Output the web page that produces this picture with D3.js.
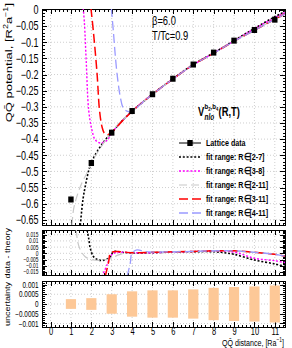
<!DOCTYPE html>
<html><head><meta charset="utf-8">
<script src="https://cdn.jsdelivr.net/npm/d3@7"></script>
<style>
body{margin:0;background:#fff}
text{font-family:"Liberation Sans",Arial,Helvetica,sans-serif}
</style></head><body>
<svg id="chart" width="292" height="348"></svg>
<script>
// lattice points
const distance = [1, 2, 3, 4, 5, 6, 7, 8, 9, 10, 11];
const lattice = [-0.587, -0.474, -0.380, -0.313, -0.261, -0.213, -0.169, -0.132, -0.095, -0.062, -0.030];
const uncertainty = [0.00025, 0.0003, 0.0005, 0.00065, 0.0007, 0.0007, 0.00075, 0.00083, 0.00087, 0.0009, 0.00095];

// fitted potentials
const fit27R = [1.46, 1.59, 1.74, 1.885, 2.0, 2.25, 2.5, 2.75, 3, 3.5, 4, 5, 6, 7, 8, 9, 10, 11, 11.6];
const fit27V = [-0.666, -0.587, -0.534, -0.494, -0.473, -0.442, -0.418, -0.397, -0.380, -0.344, -0.313, -0.261, -0.213, -0.169, -0.133, -0.095, -0.057, -0.021, -0.002];
const fit38R = [1.60, 1.66, 1.75, 1.87, 2.03, 2.19, 2.44, 2.77, 3.0, 3.5, 4, 5, 6, 7, 8, 9, 10, 11, 11.6];
const fit38V = [0.006, -0.04, -0.16, -0.31, -0.372, -0.402, -0.412, -0.404, -0.381, -0.344, -0.313, -0.261, -0.214, -0.170, -0.133, -0.096, -0.058, -0.024, -0.004];
const fit211R = [1.05, 1.13, 1.30, 1.54, 1.79, 2.0, 2.5, 3, 3.5, 4, 5, 6, 7, 8, 9, 10, 11, 11.6];
const fit211V = [-0.666, -0.617, -0.576, -0.535, -0.505, -0.474, -0.422, -0.377, -0.343, -0.314, -0.261, -0.214, -0.170, -0.134, -0.097, -0.063, -0.029, -0.009];
const fit311R = [1.98, 2.11, 2.28, 2.40, 2.52, 2.63, 2.77, 2.93, 3.0, 3.5, 4, 5, 6, 7, 8, 9, 10, 11, 11.6];
const fit311V = [0.006, -0.073, -0.196, -0.31, -0.361, -0.381, -0.387, -0.381, -0.379, -0.345, -0.314, -0.261, -0.214, -0.170, -0.134, -0.097, -0.063, -0.029, -0.009];
const fit411R = [2.98, 3.09, 3.16, 3.26, 3.42, 3.58, 3.82, 4.0, 4.5, 5, 6, 7, 8, 9, 10, 11, 11.6];
const fit411V = [0.006, -0.073, -0.13, -0.197, -0.269, -0.305, -0.315, -0.314, -0.287, -0.261, -0.214, -0.170, -0.134, -0.097, -0.063, -0.029, -0.009];

// data - theory
const res27R = [1.79, 1.87, 1.95, 2.11, 2.36, 2.68, 2.93, 3.09, 3.5, 4, 5, 6, 7, 8, 8.5, 9, 10, 11, 11.6];
const res27D = [0.0188, 0.0121, 0.004, -0.0027, -0.0054, -0.0054, -0.0027, 0.0013, 0.0008, 0.0003, 0.0005, 0.001, 0.0013, 0.0013, 0.0005, -0.0008, -0.0054, -0.0086, -0.011];
const res38R = [2.52, 2.77, 2.93, 3.09, 3.5, 4, 5, 6, 7, 8, 9, 10, 11, 11.6];
const res38D = [-0.0188, -0.0094, -0.0027, 0, 0.0008, 0.0005, 0.0005, 0.001, 0.0015, 0.0018, 0.001, -0.004, -0.006, -0.0078];
const res211R = [1.26, 1.33, 1.46, 1.70, 2.11, 2.60, 3.01, 3.3, 3.6, 4, 5, 6, 7, 8, 9, 10, 11, 11.6];
const res211D = [0.0188, 0.0094, 0.0027, -0.0027, -0.0054, -0.0054, -0.004, -0.0015, 0, 0.0005, 0.0008, 0.0012, 0.0015, 0.002, 0.002, 0.0008, -0.0008, -0.0027];
const res311R = [2.68, 2.85, 2.93, 3.09, 3.42, 4, 5, 6, 7, 8, 9, 10, 11, 11.6];
const res311D = [-0.0188, -0.0068, 0, 0.0013, 0.0013, 0.0005, 0.0008, 0.0012, 0.0015, 0.002, 0.002, 0.0008, -0.0008, -0.0027];
const res411R = [3.75, 3.91, 3.99, 4.24, 4.6, 5, 6, 7, 8, 9, 10, 11, 11.6];
const res411D = [-0.0188, -0.008, 0, 0.0027, 0.0015, 0.001, 0.0012, 0.0015, 0.002, 0.002, 0.0008, -0.0008, -0.0027];

const xTicks = [0, 1, 2, 3, 4, 5, 6, 7, 8, 9, 10, 11];

const fits = [
  { label: "fit range: R\u2208[2-7]", R: fit27R, V: fit27V, rR: res27R, rD: res27D, color: "#000", dash: "2,1.8", width: 1.6 },
  { label: "fit range: R\u2208[3-8]", R: fit38R, V: fit38V, rR: res38R, rD: res38D, color: "#ff00ff", dash: "2,1.8", width: 1.4 },
  { label: "fit range: R\u2208[2-11]", R: fit211R, V: fit211V, rR: res211R, rD: res211D, color: "#c8c8c8", dash: "8,4", width: 1.2 },
  { label: "fit range: R\u2208[3-11]", R: fit311R, V: fit311V, rR: res311R, rD: res311D, color: "#ff0000", dash: "9,4", width: 1.5 },
  { label: "fit range: R\u2208[4-11]", R: fit411R, V: fit411V, rR: res411R, rD: res411D, color: "#9a9aff", dash: "9,4", width: 1.3 },
];

const svg = d3.select("#chart");
const SX = 0.75; // the picture's text is squeezed sideways

const x = d3.scaleLinear().domain([-0.42, 11.5]).range([42, 285]);
const yMain = d3.scaleLinear().domain([0.003, -0.666]).range([9, 225]);
const yRes = d3.scaleLinear().domain([0.0188, -0.0175]).range([230, 275]);
const yUnc = d3.scaleLinear().domain([0.00118, -0.00118]).range([281, 327]);

function steps(lo, hi, step) {
  const a = Math.ceil(lo / step - 1e-6), b = Math.floor(hi / step + 1e-6);
  return d3.range(a, b + 1).map(i => +(i * step).toPrecision(10));
}

function panel(y, id, major, minor, fmt, fs, showX) {
  const [x0, x1] = x.range();
  const [y0, y1] = y.range();
  const [lo, hi] = d3.extent(y.domain());
  const g = svg.append("g");

  svg.append("clipPath").attr("id", id).append("rect")
    .attr("x", x0).attr("y", y0).attr("width", x1 - x0).attr("height", y1 - y0);

  // grid
  g.append("g").selectAll("line").data(xTicks).join("line")
    .attr("x1", d => x(d)).attr("x2", d => x(d)).attr("y1", y0).attr("y2", y1)
    .attr("stroke", "#cfcfcf").attr("stroke-dasharray", "1,2");
  g.append("g").selectAll("line").data(steps(lo, hi, major)).join("line")
    .attr("x1", x0).attr("x2", x1).attr("y1", d => y(d)).attr("y2", d => y(d))
    .attr("stroke", "#cfcfcf").attr("stroke-dasharray", "1,2");

  const clean = a => a.select(".domain").remove();
  const minorX = steps(-0.42, 11.5, 0.2);

  // y ticks, left and right
  g.append("g").attr("transform", `translate(${x0},0)`)
    .call(d3.axisLeft(y).tickValues(steps(lo, hi, major)).tickSize(-5).tickFormat(fmt))
    .call(clean)
    .call(a => a.selectAll("text")
      .attr("x", -3.5 / SX).attr("transform", `scale(${SX},1)`)
      .attr("font-size", fs).attr("fill", "#000"));
  g.append("g").attr("transform", `translate(${x0},0)`)
    .call(d3.axisLeft(y).tickValues(steps(lo, hi, minor)).tickSize(-2.5).tickFormat(""))
    .call(clean);
  g.append("g").attr("transform", `translate(${x1},0)`)
    .call(d3.axisRight(y).tickValues(steps(lo, hi, major)).tickSize(-5).tickFormat(""))
    .call(clean);
  g.append("g").attr("transform", `translate(${x1},0)`)
    .call(d3.axisRight(y).tickValues(steps(lo, hi, minor)).tickSize(-2.5).tickFormat(""))
    .call(clean);

  // x ticks, top and bottom
  g.append("g").attr("transform", `translate(0,${y0})`)
    .call(d3.axisTop(x).tickValues(xTicks).tickSize(-5).tickFormat("")).call(clean);
  g.append("g").attr("transform", `translate(0,${y0})`)
    .call(d3.axisTop(x).tickValues(minorX).tickSize(-2.5).tickFormat("")).call(clean);
  const bx = g.append("g").attr("transform", `translate(0,${y1})`)
    .call(d3.axisBottom(x).tickValues(xTicks).tickSize(-5).tickFormat(showX ? d3.format("d") : ""))
    .call(clean);
  if (showX) {
    bx.selectAll("text").attr("y", 7.5).attr("dy", null)
      .attr("transform", `scale(${SX},1)`).attr("font-size", 10).attr("fill", "#000");
  }
  g.append("g").attr("transform", `translate(0,${y1})`)
    .call(d3.axisBottom(x).tickValues(minorX).tickSize(-2.5).tickFormat("")).call(clean);

  g.selectAll(".tick line").attr("shape-rendering", "crispEdges");

  g.append("rect").attr("x", x0).attr("y", y0).attr("width", x1 - x0).attr("height", y1 - y0)
    .attr("fill", "none").attr("stroke", "#000").attr("shape-rendering", "crispEdges");
  return g;
}

const fmtSimple = d => (d < 0 ? "\u2212" : "") + String(+Math.abs(d).toPrecision(6));

panel(yMain, "clipMain", 0.05, 0.01, fmtSimple, 12, false);
panel(yRes, "clipRes", 0.005, 0.001, fmtSimple, 6.5, false);
panel(yUnc, "clipUnc", 0.0005, 0.0001, fmtSimple, 8.5, true);

// bars of the uncertainty panel
svg.append("g").attr("clip-path", "url(#clipUnc)")
  .selectAll("rect").data(d3.zip(distance, uncertainty)).join("rect")
  .attr("x", d => x(d[0] - 0.25)).attr("width", x(0.5) - x(0))
  .attr("y", d => yUnc(d[1])).attr("height", d => yUnc(-d[1]) - yUnc(d[1]))
  .attr("fill", "#fdc897");

// fit curves
const lineMain = d3.line().x(d => x(d[0])).y(d => yMain(d[1])).curve(d3.curveCatmullRom.alpha(0.5));
const lineRes = d3.line().x(d => x(d[0])).y(d => yRes(d[1])).curve(d3.curveCatmullRom.alpha(0.5));

const gMain = svg.append("g").attr("clip-path", "url(#clipMain)");
const gRes = svg.append("g").attr("clip-path", "url(#clipRes)");
fits.forEach(f => {
  gMain.append("path").attr("d", lineMain(d3.zip(f.R, f.V)))
    .attr("fill", "none").attr("stroke", f.color).attr("stroke-width", f.width).attr("stroke-dasharray", f.dash);
  gRes.append("path").attr("d", lineRes(d3.zip(f.rR, f.rD)))
    .attr("fill", "none").attr("stroke", f.color).attr("stroke-width", f.width).attr("stroke-dasharray", f.dash);
});

// lattice points
gMain.selectAll("rect.pt").data(d3.zip(distance, lattice)).join("rect").attr("class", "pt")
  .attr("x", d => x(d[0]) - 2.7).attr("y", d => yMain(d[1]) - 3)
  .attr("width", 5.4).attr("height", 6).attr("fill", "#000");

// texts
function label(g, tx, ty, str, fs, extra) {
  const t = g.append("text").attr("transform", `translate(${tx},${ty}) scale(${SX},1)${extra || ""}`)
    .attr("font-size", fs).text(str);
  return t;
}

label(svg, 152, 25, "\u03b2=6.0", 12.5);
label(svg, 152, 40, "T/Tc=0.9", 12.5);

// V_nlo^{b2,b4}(R,T)
const vg = svg.append("g").attr("transform", `translate(198,116) scale(${SX},1)`)
  .attr("font-weight", "bold");
const vt = vg.append("text").attr("font-size", 12.5).text("V");
const vw = vt.node().getComputedTextLength() + 0.5;
const sup = vg.append("text").attr("x", vw).attr("y", -7).attr("font-size", 8);
sup.append("tspan").text("b");
sup.append("tspan").attr("font-size", 5.5).attr("dy", 1.5).text("2");
sup.append("tspan").attr("dy", -1.5).text(",b");
sup.append("tspan").attr("font-size", 5.5).attr("dy", 1.5).text("4");
const sub = vg.append("text").attr("x", vw).attr("y", 3.5).attr("font-size", 8.5).attr("font-style", "italic").text("nlo");
const sw = Math.max(sup.node().getComputedTextLength(), sub.node().getComputedTextLength());
vg.append("text").attr("x", vw + sw + 0.5).attr("font-size", 12.5).text("(R,T)");

// legend
const legend = svg.append("g");
const rows = [{ label: "Lattice data", color: "#000", dash: null, width: 1, marker: true }].concat(fits);
rows.forEach((r, i) => {
  const ly = 143 + i * 14;
  legend.append("line").attr("x1", 179).attr("x2", 201).attr("y1", ly).attr("y2", ly)
    .attr("stroke", r.color).attr("stroke-width", r.width).attr("stroke-dasharray", r.dash);
  if (r.marker) legend.append("rect").attr("x", 190 - 2.7).attr("y", ly - 3).attr("width", 5.4).attr("height", 6).attr("fill", "#000");
  label(legend, 206, ly + 3.3, r.label, 9.5).attr("font-weight", "bold");
});

// axis titles
const yt = svg.append("text").attr("transform", `translate(11.5,3) scale(${SX},1) rotate(-90)`)
  .attr("font-size", 13).attr("text-anchor", "end");
yt.append("tspan").text("QQ\u0304 potential, [R");
yt.append("tspan").attr("font-size", 9).attr("dy", -5).text("2");
yt.append("tspan").attr("dy", 5).text("a");
yt.append("tspan").attr("font-size", 9).attr("dy", -5).text("\u22121");
yt.append("tspan").attr("dy", 5).text("]");

label(svg, 10, yRes(0), "data - theory", 9, " rotate(-90)").attr("text-anchor", "middle");
label(svg, 10, yUnc(0), "uncertainty", 9, " rotate(-90)").attr("text-anchor", "middle");

const xt = svg.append("text").attr("transform", `translate(284,345.5) scale(${SX},1)`)
  .attr("font-size", 9.5).attr("text-anchor", "end");
xt.append("tspan").text("QQ\u0304 distance, [Ra");
xt.append("tspan").attr("font-size", 6.5).attr("dy", -3.5).text("\u22121");
xt.append("tspan").attr("dy", 3.5).text("]");
</script>
</body></html>
